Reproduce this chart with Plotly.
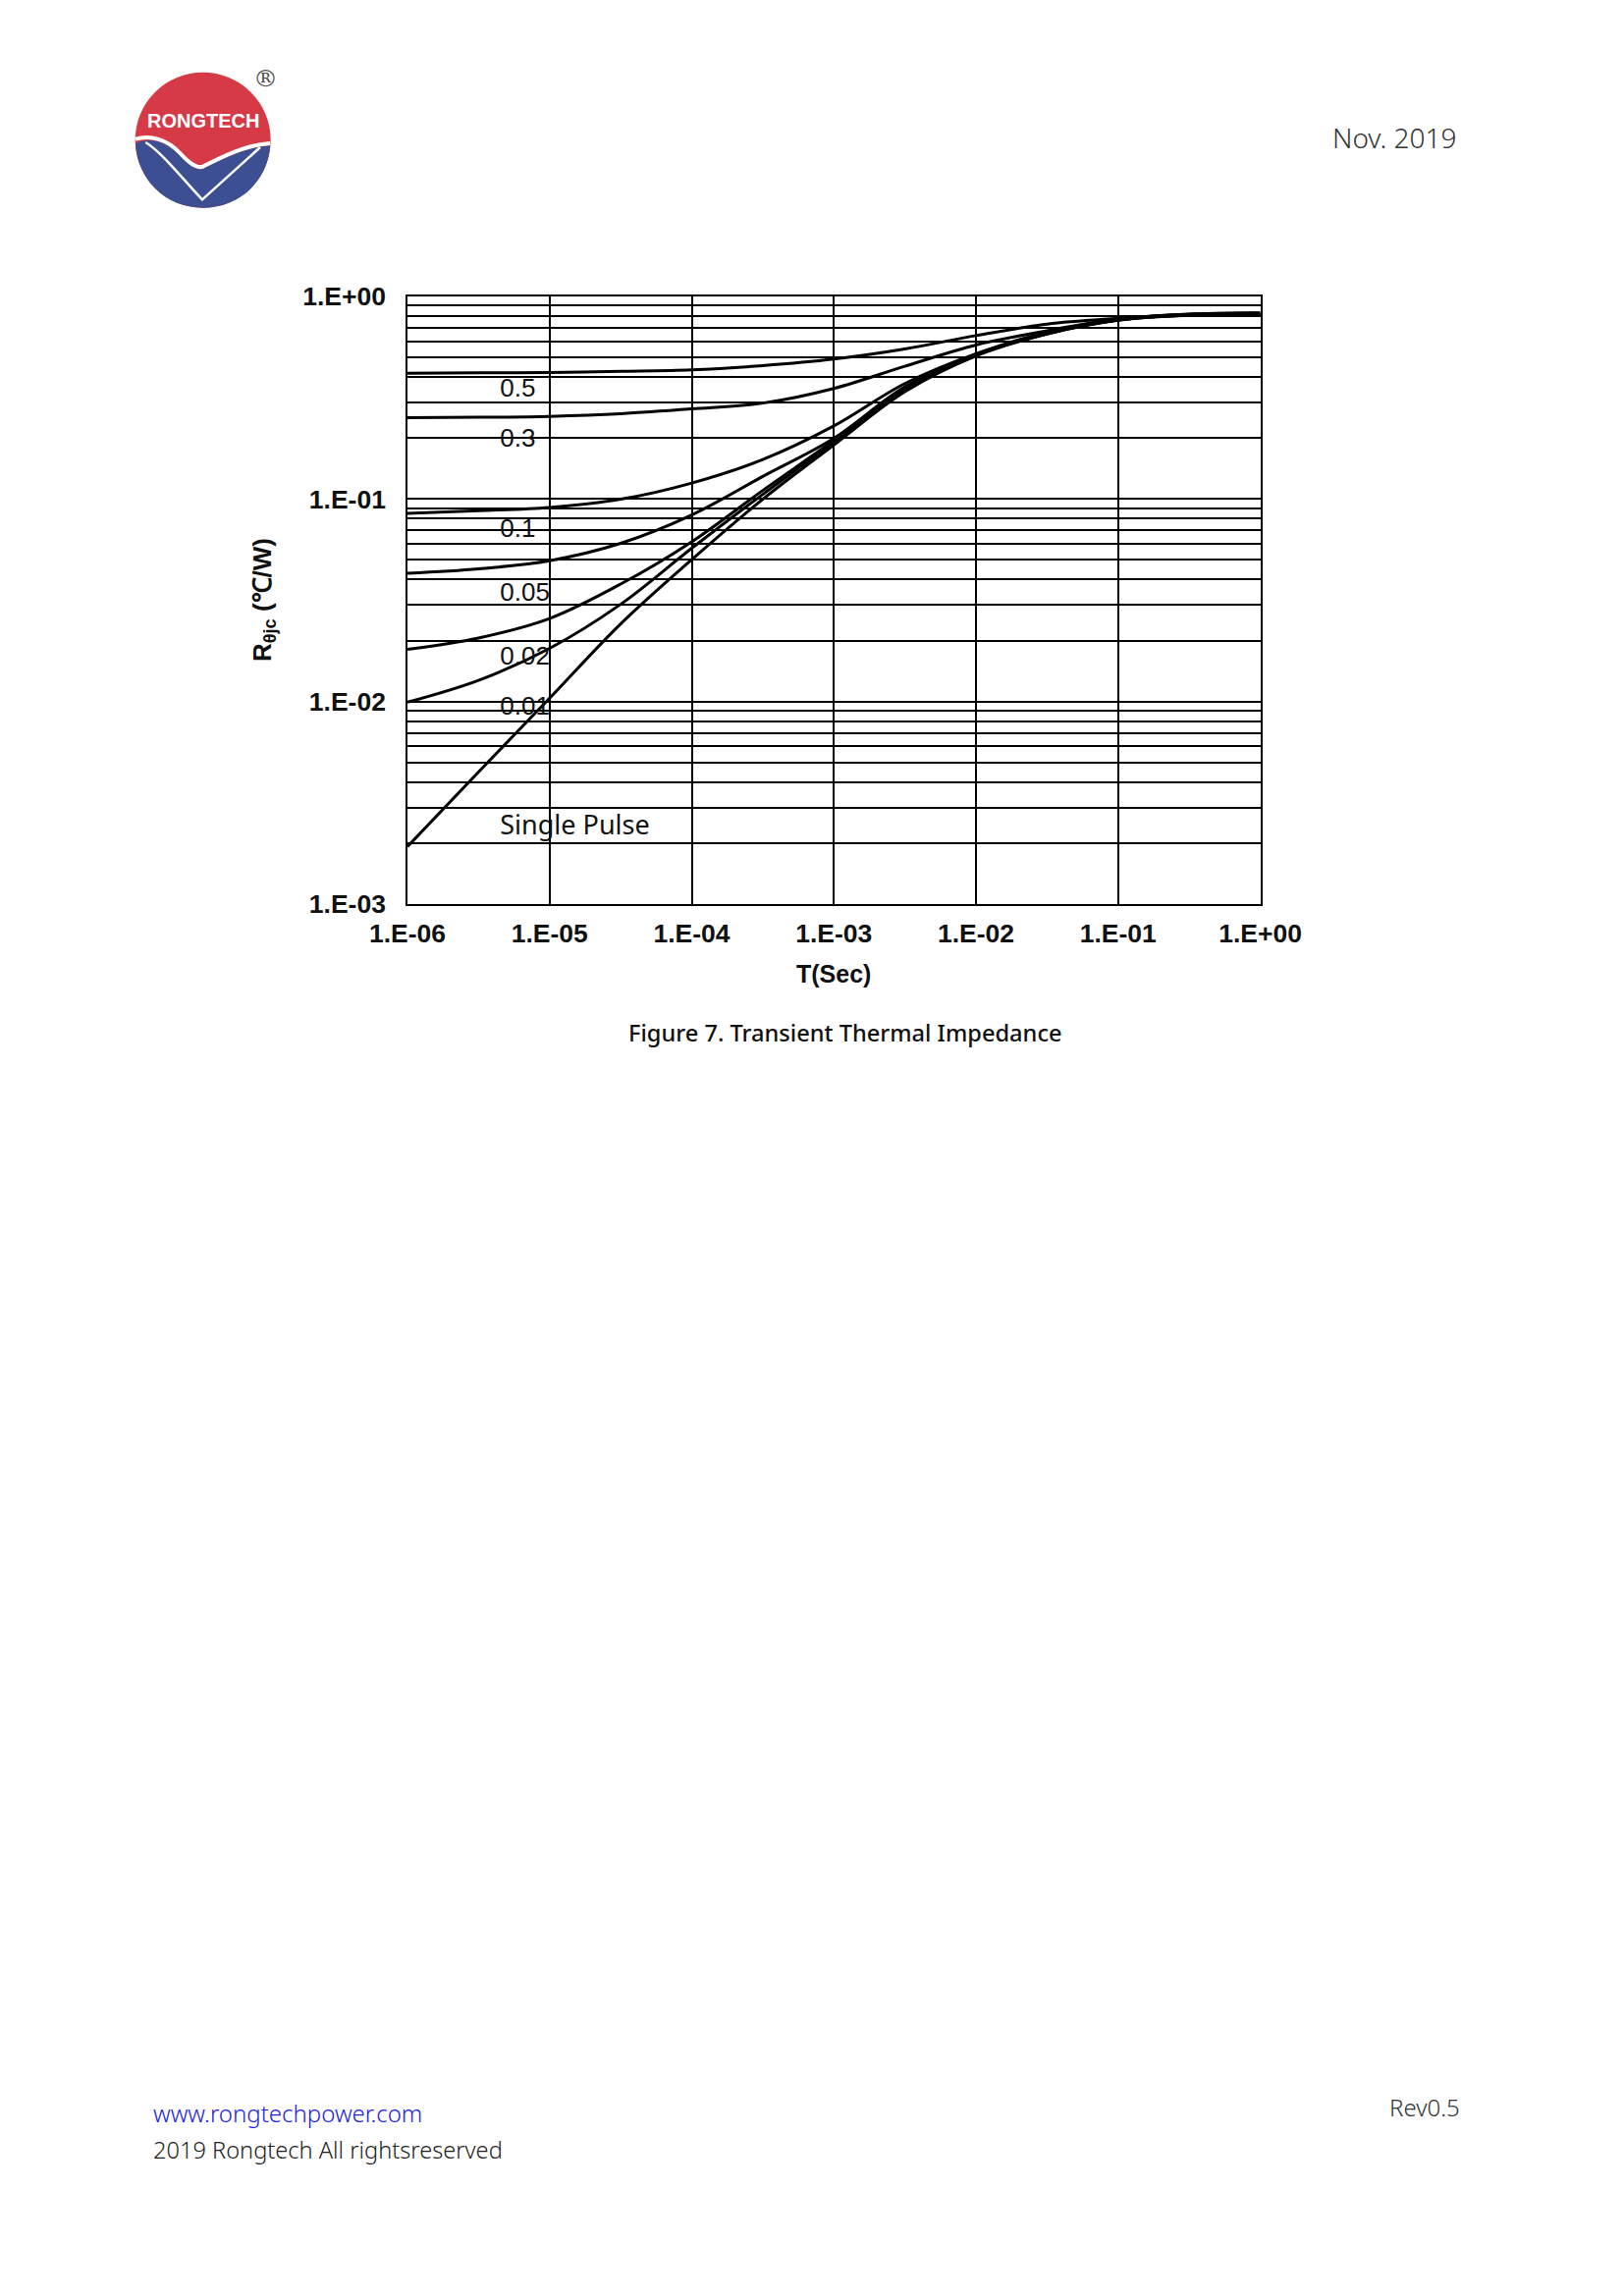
import plotly.graph_objects as go

t = [1e-6, 3.16e-6, 1e-5, 3.16e-5, 1e-4, 3.16e-4, 1e-3, 3.16e-3, 1e-2, 3.16e-2, 1e-1, 3.16e-1, 1.0]
d_05 = [0.4178, 0.4194, 0.4215, 0.4270, 0.4342, 0.4556, 0.4906, 0.5502, 0.6408, 0.7300, 0.7797, 0.8182, 0.8305]
d_03 = [0.2521, 0.2531, 0.2559, 0.2636, 0.2783, 0.2975, 0.3515, 0.4524, 0.5760, 0.6773, 0.7739, 0.8153, 0.8274]
d_01 = [0.0849, 0.0875, 0.0908, 0.0997, 0.1199, 0.1566, 0.2295, 0.3715, 0.5210, 0.6648, 0.7710, 0.8153, 0.8213]
d_005 = [0.0430, 0.0452, 0.0496, 0.0604, 0.0834, 0.1292, 0.1993, 0.3580, 0.5188, 0.6598, 0.7682, 0.8124, 0.8182]
d_002 = [0.0181, 0.0206, 0.0257, 0.0380, 0.0615, 0.1102, 0.1943, 0.3515, 0.5147, 0.6573, 0.7653, 0.8093, 0.8153]
d_001 = [0.00993, 0.01273, 0.0183, 0.0302, 0.0571, 0.1054, 0.1906, 0.3449, 0.5129, 0.6548, 0.7653, 0.8093, 0.8124]
single = [0.00192, 0.00449, 0.01038, 0.02416, 0.0502, 0.0997, 0.1849, 0.3388, 0.5090, 0.6524, 0.7625, 0.8063, 0.8093]
series = [d_05, d_03, d_01, d_005, d_002, d_001, single]

x_ticks = [1e-6, 1e-5, 1e-4, 1e-3, 1e-2, 1e-1, 1.0]
x_labels = ["1.E-06", "1.E-05", "1.E-04", "1.E-03", "1.E-02", "1.E-01", "1.E+00"]
y_ticks = [1.0, 0.1, 0.01, 0.001]
y_labels = ["1.E+00", "1.E-01", "1.E-02", "1.E-03"]

duty_text = ["0.5", "0.3", "0.1", "0.05", "0.02", "0.01"]
duty_x = [4.48e-6, 4.48e-6, 4.48e-6, 4.48e-6, 4.48e-6, 4.48e-6]
duty_y = [0.344, 0.196, 0.070, 0.0338, 0.0163, 0.00925]

# page pixels -> paper (the browser adds an 8px body margin)
W, H = 1638, 2323
def px(x):
    return (x - 8) / W
def py(y):
    return 1 - (y - 8) / H

L, R, T, B = 415, 1283.5, 302, 921

fig = go.Figure()
for s in series:
    fig.add_trace(go.Scatter(x=t, y=s, mode="lines", line=dict(color="black", width=3, shape="spline", smoothing=1),
                             showlegend=False, hoverinfo="skip"))
fig.add_trace(go.Scatter(x=duty_x, y=duty_y, mode="text", text=duty_text, textposition="middle right",
                         textfont=dict(family="Liberation Sans", size=26, color="#111111"),
                         showlegend=False, hoverinfo="skip"))
fig.add_trace(go.Scatter(x=[4.48e-6], y=[0.00237], mode="text", text=["Single Pulse"], textposition="middle right",
                         textfont=dict(family="Noto Sans", size=27, color="#111111"),
                         showlegend=False, hoverinfo="skip"))

fig.update_xaxes(type="log", range=[-6, 0], domain=[px(L), px(R)], tickvals=x_ticks, ticktext=x_labels,
                 showgrid=True, gridcolor="black", gridwidth=1.6, showline=True, linecolor="black", linewidth=1.6,
                 mirror=True, ticks="", ticklabelstandoff=5, zeroline=False, automargin=False,
                 tickfont=dict(family="Liberation Sans", size=26.5, color="#111111", weight="bold"))
fig.update_yaxes(type="log", range=[-3, 0], domain=[py(B), py(T)], tickvals=y_ticks, ticktext=y_labels,
                 showgrid=True, gridcolor="black", gridwidth=1.6, showline=True, linecolor="black", linewidth=1.6,
                 mirror=True, ticks="", ticklabelstandoff=15, zeroline=False, automargin=False,
                 minor=dict(showgrid=True, gridcolor="black", gridwidth=1.6, dtick="D1", ticks=""),
                 tickfont=dict(family="Liberation Sans", size=26.5, color="#111111", weight="bold"))

def note(x, y, text, size, color="#111111", family="Noto Sans", anchor="left", angle=0, weight="normal"):
    fig.add_annotation(xref="paper", yref="paper", x=px(x), y=py(y), text=text, showarrow=False, xanchor=anchor,
                       yanchor="middle", textangle=angle, font=dict(family=family, size=size, color=color, weight=weight))

note(849, 992, "T(Sec)", 25, family="Liberation Sans", anchor="center", weight="bold")
note(268.5, 611.6, "R<sub>θjc</sub> (℃/W)", 26, family="Liberation Sans", anchor="center", angle=-90, weight="bold")
note(861, 1052, "Figure 7. Transient Thermal Impedance", 23.6, anchor="center", weight=500)
note(1354.5, 140, "Nov. 2019", 28, color="#333333", weight=300)
note(153.5, 2152, "www.rongtechpower.com", 24, color="#2222dd", weight=300)
note(153.5, 2189.5, "2019 Rongtech All rightsreserved", 23.6, color="#222222", weight=300)
note(1412.5, 2146, "Rev0.5", 24, color="#333333", weight=300)

# logo, zoom-crop coordinates (3x, origin 120,50)
def lx(v):
    return px(120 + v / 3)
def ly(v):
    return py(50 + v / 3)
def path(cmds):
    out = ""
    for c, pts in cmds:
        out += c + " ".join(f"{lx(a):.5f},{ly(b):.5f}" for a, b in pts) + " "
    return out
cx, cy, r = 260, 278, 207
k = 0.5523 * r
fig.add_shape(type="circle", xref="paper", yref="paper", x0=lx(cx - r), x1=lx(cx + r), y0=ly(cy + r), y1=ly(cy - r),
              fillcolor="#d63a47", line_width=0, layer="above")
blue = path([("M", [(54, 288)]),
             ("C", [(100, 268), (150, 282), (190, 325)]),
             ("C", [(215, 350), (240, 375), (262, 365)]),
             ("C", [(320, 335), (390, 300), (465, 295)]),
             ("C", [(460, 400), (cx + k, cy + r), (cx, cy + r)]),
             ("C", [(cx - k, cy + r), (60, 400), (54, 288)]), ("Z", [])])
fig.add_shape(type="path", xref="paper", yref="paper", path=blue, fillcolor="#3b4f92", line_width=0, layer="above")
top = path([("M", [(54, 275)]),
            ("C", [(100, 262), (150, 275), (190, 318)]),
            ("C", [(215, 345), (240, 368), (262, 358)]),
            ("C", [(320, 328), (390, 293), (465, 288)])])
fig.add_shape(type="path", xref="paper", yref="paper", path=top, line=dict(color="white", width=4), layer="above")
v_line = path([("M", [(85, 285)]), ("C", [(140, 320), (200, 400), (258, 460)]), ("L", [(435, 300)])])
fig.add_shape(type="path", xref="paper", yref="paper", path=v_line, line=dict(color="white", width=2.5), layer="above")
note(206.7, 122.7, "RONGTECH", 20, color="white", family="Liberation Sans", anchor="center", weight="bold")
note(270, 79, "®", 25, color="#555555", family="DejaVu Serif", anchor="center")

fig.update_layout(width=W, height=H, margin=dict(l=0, r=0, t=0, b=0), paper_bgcolor="white", plot_bgcolor="white",
                  showlegend=False)

fig.write_html("out.html")
